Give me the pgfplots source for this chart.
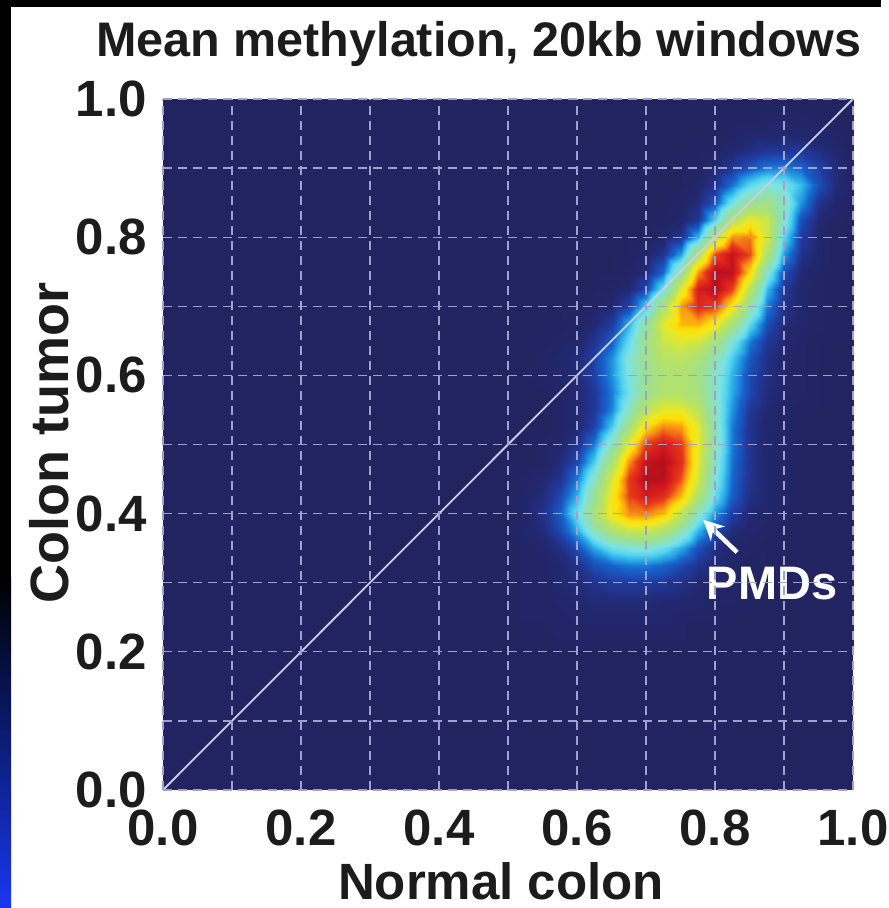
\documentclass[border=0pt]{standalone}
\usepackage{fontspec}
\setmainfont{Liberation Sans}
\usepackage{pgfplots}
\pgfplotsset{compat=1.18}
\usetikzlibrary{arrows.meta}
\definecolor{navy}{RGB}{34,36,98}
\definecolor{gridc}{RGB}{160,160,205}
\definecolor{diagc}{RGB}{205,205,230}
\definecolor{labc}{RGB}{28,28,28}
\definecolor{stripblue}{RGB}{25,55,240}
\pgfplotsset{colormap={meth}{
rgb255(0pt)=(34,36,98)
rgb255(3pt)=(34,40,112)
rgb255(8pt)=(32,58,158)
rgb255(14pt)=(22,100,205)
rgb255(20pt)=(40,170,230)
rgb255(25pt)=(85,212,240)
rgb255(30pt)=(125,226,228)
rgb255(36pt)=(140,225,185)
rgb255(44pt)=(160,224,140)
rgb255(55pt)=(190,228,90)
rgb255(64pt)=(238,232,35)
rgb255(70pt)=(255,222,5)
rgb255(78pt)=(248,145,20)
rgb255(85pt)=(232,60,25)
rgb255(92pt)=(212,25,30)
rgb255(100pt)=(165,12,28)}}
\newcommand\tlf{\fontsize{51}{60}\selectfont\bfseries}
\begin{document}
\begin{tikzpicture}
\fill[white] (0,0) rectangle (881pt,908pt);
\fill[black] (0,0) rectangle (11pt,908pt);
\shade[top color=black,bottom color=stripblue] (0,0) rectangle (11pt,330pt);
\fill[black] (0,901pt) rectangle (881pt,908pt);
\begin{axis}[at={(163pt,118pt)}, anchor=south west, scale only axis,
 width=690pt, height=691pt, xmin=0, xmax=1, ymin=0, ymax=1,
 axis background/.style={fill=navy}, axis line style={draw=none},
 xtick={0,0.2,0.4,0.6,0.8,1}, ytick={0,0.2,0.4,0.6,0.8,1},
 xticklabels={0.0,0.2,0.4,0.6,0.8,1.0}, yticklabels={0.0,0.2,0.4,0.6,0.8,1.0},
 minor xtick={0.1,0.3,0.5,0.7,0.9}, minor ytick={0.1,0.3,0.5,0.7,0.9},
 grid=both,
 major grid style={gridc, line width=1.3pt, dash pattern=on 9pt off 6pt},
 minor grid style={gridc, line width=1.3pt, dash pattern=on 9pt off 6pt},
 major tick length=0pt, minor tick length=0pt, axis on top,
 colormap name=meth, point meta min=0, point meta max=1,
 xticklabel style={font=\tlf, text=labc, anchor=base, inner sep=0pt, yshift=-56pt},
 yticklabel style={font=\tlf, text=labc, anchor=east, inner sep=0pt, xshift=-16pt}]
\addplot[surf, shader=interp, mesh/cols=21, point meta=explicit] coordinates {
(0.5,0.2)[0] (0.525,0.2)[0] (0.55,0.2)[0] (0.575,0.2)[0] (0.6,0.2)[0] (0.625,0.2)[0] (0.65,0.2)[0] (0.675,0.2)[0] (0.7,0.2)[0] (0.725,0.2)[0] (0.75,0.2)[0] (0.775,0.2)[0] (0.8,0.2)[0] (0.825,0.2)[0] (0.85,0.2)[0] (0.875,0.2)[0] (0.9,0.2)[0] (0.925,0.2)[0] (0.95,0.2)[0] (0.975,0.2)[0] (1,0.2)[0]
(0.5,0.225)[0] (0.525,0.225)[0] (0.55,0.225)[0] (0.575,0.225)[0.01] (0.6,0.225)[0.01] (0.625,0.225)[0.01] (0.65,0.225)[0.01] (0.675,0.225)[0.01] (0.7,0.225)[0.01] (0.725,0.225)[0.01] (0.75,0.225)[0.01] (0.775,0.225)[0] (0.8,0.225)[0] (0.825,0.225)[0] (0.85,0.225)[0] (0.875,0.225)[0] (0.9,0.225)[0] (0.925,0.225)[0] (0.95,0.225)[0] (0.975,0.225)[0] (1,0.225)[0]
(0.5,0.25)[0] (0.525,0.25)[0.01] (0.55,0.25)[0.01] (0.575,0.25)[0.01] (0.6,0.25)[0.02] (0.625,0.25)[0.02] (0.65,0.25)[0.02] (0.675,0.25)[0.02] (0.7,0.25)[0.02] (0.725,0.25)[0.02] (0.75,0.25)[0.01] (0.775,0.25)[0.01] (0.8,0.25)[0.01] (0.825,0.25)[0] (0.85,0.25)[0] (0.875,0.25)[0] (0.9,0.25)[0] (0.925,0.25)[0] (0.95,0.25)[0] (0.975,0.25)[0] (1,0.25)[0]
(0.5,0.275)[0] (0.525,0.275)[0.01] (0.55,0.275)[0.01] (0.575,0.275)[0.02] (0.6,0.275)[0.03] (0.625,0.275)[0.04] (0.65,0.275)[0.04] (0.675,0.275)[0.04] (0.7,0.275)[0.04] (0.725,0.275)[0.03] (0.75,0.275)[0.03] (0.775,0.275)[0.02] (0.8,0.275)[0.01] (0.825,0.275)[0.01] (0.85,0.275)[0] (0.875,0.275)[0] (0.9,0.275)[0] (0.925,0.275)[0] (0.95,0.275)[0] (0.975,0.275)[0] (1,0.275)[0]
(0.5,0.3)[0] (0.525,0.3)[0.01] (0.55,0.3)[0.01] (0.575,0.3)[0.03] (0.6,0.3)[0.04] (0.625,0.3)[0.06] (0.65,0.3)[0.08] (0.675,0.3)[0.08] (0.7,0.3)[0.08] (0.725,0.3)[0.07] (0.75,0.3)[0.05] (0.775,0.3)[0.03] (0.8,0.3)[0.02] (0.825,0.3)[0.01] (0.85,0.3)[0] (0.875,0.3)[0] (0.9,0.3)[0] (0.925,0.3)[0] (0.95,0.3)[0] (0.975,0.3)[0] (1,0.3)[0]
(0.5,0.325)[0] (0.525,0.325)[0.01] (0.55,0.325)[0.01] (0.575,0.325)[0.03] (0.6,0.325)[0.06] (0.625,0.325)[0.11] (0.65,0.325)[0.14] (0.675,0.325)[0.16] (0.7,0.325)[0.16] (0.725,0.325)[0.14] (0.75,0.325)[0.1] (0.775,0.325)[0.06] (0.8,0.325)[0.03] (0.825,0.325)[0.01] (0.85,0.325)[0] (0.875,0.325)[0] (0.9,0.325)[0] (0.925,0.325)[0] (0.95,0.325)[0] (0.975,0.325)[0] (1,0.325)[0]
(0.5,0.35)[0] (0.525,0.35)[0.01] (0.55,0.35)[0.02] (0.575,0.35)[0.05] (0.6,0.35)[0.11] (0.625,0.35)[0.2] (0.65,0.35)[0.28] (0.675,0.35)[0.31] (0.7,0.35)[0.32] (0.725,0.35)[0.28] (0.75,0.35)[0.2] (0.775,0.35)[0.11] (0.8,0.35)[0.05] (0.825,0.35)[0.02] (0.85,0.35)[0.01] (0.875,0.35)[0] (0.9,0.35)[0] (0.925,0.35)[0] (0.95,0.35)[0] (0.975,0.35)[0] (1,0.35)[0]
(0.5,0.375)[0] (0.525,0.375)[0.02] (0.55,0.375)[0.04] (0.575,0.375)[0.1] (0.6,0.375)[0.2] (0.625,0.375)[0.36] (0.65,0.375)[0.5] (0.675,0.375)[0.57] (0.7,0.375)[0.57] (0.725,0.375)[0.5] (0.75,0.375)[0.37] (0.775,0.375)[0.21] (0.8,0.375)[0.1] (0.825,0.375)[0.04] (0.85,0.375)[0.02] (0.875,0.375)[0.01] (0.9,0.375)[0] (0.925,0.375)[0] (0.95,0.375)[0] (0.975,0.375)[0] (1,0.375)[0]
(0.5,0.4)[0] (0.525,0.4)[0.02] (0.55,0.4)[0.06] (0.575,0.4)[0.13] (0.6,0.4)[0.28] (0.625,0.4)[0.48] (0.65,0.4)[0.67] (0.675,0.4)[0.78] (0.7,0.4)[0.79] (0.725,0.4)[0.73] (0.75,0.4)[0.55] (0.775,0.4)[0.34] (0.8,0.4)[0.18] (0.825,0.4)[0.08] (0.85,0.4)[0.03] (0.875,0.4)[0.02] (0.9,0.4)[0.01] (0.925,0.4)[0] (0.95,0.4)[0] (0.975,0.4)[0] (1,0.4)[0]
(0.5,0.425)[0] (0.525,0.425)[0.02] (0.55,0.425)[0.04] (0.575,0.425)[0.1] (0.6,0.425)[0.21] (0.625,0.425)[0.42] (0.65,0.425)[0.66] (0.675,0.425)[0.85] (0.7,0.425)[0.92] (0.725,0.425)[0.88] (0.75,0.425)[0.74] (0.775,0.425)[0.5] (0.8,0.425)[0.27] (0.825,0.425)[0.13] (0.85,0.425)[0.05] (0.875,0.425)[0.02] (0.9,0.425)[0.01] (0.925,0.425)[0] (0.95,0.425)[0] (0.975,0.425)[0] (1,0.425)[0]
(0.5,0.45)[0] (0.525,0.45)[0.01] (0.55,0.45)[0.03] (0.575,0.45)[0.06] (0.6,0.45)[0.16] (0.625,0.45)[0.34] (0.65,0.45)[0.61] (0.675,0.45)[0.86] (0.7,0.45)[0.98] (0.725,0.45)[0.97] (0.75,0.45)[0.83] (0.775,0.45)[0.58] (0.8,0.45)[0.31] (0.825,0.45)[0.14] (0.85,0.45)[0.06] (0.875,0.45)[0.02] (0.9,0.45)[0.01] (0.925,0.45)[0] (0.95,0.45)[0] (0.975,0.45)[0] (1,0.45)[0]
(0.5,0.475)[0] (0.525,0.475)[0] (0.55,0.475)[0.01] (0.575,0.475)[0.04] (0.6,0.475)[0.1] (0.625,0.475)[0.24] (0.65,0.475)[0.49] (0.675,0.475)[0.78] (0.7,0.475)[0.95] (0.725,0.475)[0.98] (0.75,0.475)[0.88] (0.775,0.475)[0.62] (0.8,0.475)[0.34] (0.825,0.475)[0.15] (0.85,0.475)[0.06] (0.875,0.475)[0.02] (0.9,0.475)[0.01] (0.925,0.475)[0] (0.95,0.475)[0] (0.975,0.475)[0] (1,0.475)[0]
(0.5,0.5)[0] (0.525,0.5)[0] (0.55,0.5)[0.01] (0.575,0.5)[0.02] (0.6,0.5)[0.06] (0.625,0.5)[0.16] (0.65,0.5)[0.36] (0.675,0.5)[0.63] (0.7,0.5)[0.86] (0.725,0.5)[0.92] (0.75,0.5)[0.86] (0.775,0.5)[0.63] (0.8,0.5)[0.36] (0.825,0.5)[0.16] (0.85,0.5)[0.06] (0.875,0.5)[0.02] (0.9,0.5)[0.01] (0.925,0.5)[0] (0.95,0.5)[0] (0.975,0.5)[0] (1,0.5)[0]
(0.5,0.525)[0] (0.525,0.525)[0] (0.55,0.525)[0] (0.575,0.525)[0.01] (0.6,0.525)[0.03] (0.625,0.525)[0.09] (0.65,0.525)[0.24] (0.675,0.525)[0.47] (0.7,0.525)[0.7] (0.725,0.525)[0.79] (0.75,0.525)[0.77] (0.775,0.525)[0.62] (0.8,0.525)[0.36] (0.825,0.525)[0.16] (0.85,0.525)[0.06] (0.875,0.525)[0.02] (0.9,0.525)[0.01] (0.925,0.525)[0] (0.95,0.525)[0] (0.975,0.525)[0] (1,0.525)[0]
(0.5,0.55)[0] (0.525,0.55)[0] (0.55,0.55)[0] (0.575,0.55)[0.01] (0.6,0.55)[0.03] (0.625,0.55)[0.07] (0.65,0.55)[0.17] (0.675,0.55)[0.35] (0.7,0.55)[0.53] (0.725,0.55)[0.63] (0.75,0.55)[0.63] (0.775,0.55)[0.54] (0.8,0.55)[0.35] (0.825,0.55)[0.18] (0.85,0.55)[0.07] (0.875,0.55)[0.03] (0.9,0.55)[0.01] (0.925,0.55)[0] (0.95,0.55)[0] (0.975,0.55)[0] (1,0.55)[0]
(0.5,0.575)[0] (0.525,0.575)[0] (0.55,0.575)[0] (0.575,0.575)[0.01] (0.6,0.575)[0.03] (0.625,0.575)[0.07] (0.65,0.575)[0.16] (0.675,0.575)[0.29] (0.7,0.575)[0.43] (0.725,0.575)[0.51] (0.75,0.575)[0.51] (0.775,0.575)[0.47] (0.8,0.575)[0.34] (0.825,0.575)[0.2] (0.85,0.575)[0.1] (0.875,0.575)[0.04] (0.9,0.575)[0.02] (0.925,0.575)[0.01] (0.95,0.575)[0] (0.975,0.575)[0] (1,0.575)[0]
(0.5,0.6)[0] (0.525,0.6)[0] (0.55,0.6)[0.01] (0.575,0.6)[0.02] (0.6,0.6)[0.04] (0.625,0.6)[0.09] (0.65,0.6)[0.18] (0.675,0.6)[0.31] (0.7,0.6)[0.43] (0.725,0.6)[0.49] (0.75,0.6)[0.5] (0.775,0.6)[0.45] (0.8,0.6)[0.34] (0.825,0.6)[0.21] (0.85,0.6)[0.1] (0.875,0.6)[0.05] (0.9,0.6)[0.02] (0.925,0.6)[0.01] (0.95,0.6)[0] (0.975,0.6)[0] (1,0.6)[0]
(0.5,0.625)[0] (0.525,0.625)[0] (0.55,0.625)[0.01] (0.575,0.625)[0.02] (0.6,0.625)[0.04] (0.625,0.625)[0.09] (0.65,0.625)[0.18] (0.675,0.625)[0.32] (0.7,0.625)[0.45] (0.725,0.625)[0.52] (0.75,0.625)[0.54] (0.775,0.625)[0.49] (0.8,0.625)[0.38] (0.825,0.625)[0.24] (0.85,0.625)[0.12] (0.875,0.625)[0.05] (0.9,0.625)[0.02] (0.925,0.625)[0.01] (0.95,0.625)[0] (0.975,0.625)[0] (1,0.625)[0]
(0.5,0.65)[0] (0.525,0.65)[0] (0.55,0.65)[0] (0.575,0.65)[0.01] (0.6,0.65)[0.02] (0.625,0.65)[0.06] (0.65,0.65)[0.13] (0.675,0.65)[0.27] (0.7,0.65)[0.45] (0.725,0.65)[0.58] (0.75,0.65)[0.62] (0.775,0.65)[0.59] (0.8,0.65)[0.48] (0.825,0.65)[0.31] (0.85,0.65)[0.16] (0.875,0.65)[0.07] (0.9,0.65)[0.03] (0.925,0.65)[0.01] (0.95,0.65)[0] (0.975,0.65)[0] (1,0.65)[0]
(0.5,0.675)[0] (0.525,0.675)[0] (0.55,0.675)[0] (0.575,0.675)[0] (0.6,0.675)[0.01] (0.625,0.675)[0.03] (0.65,0.675)[0.08] (0.675,0.675)[0.21] (0.7,0.675)[0.4] (0.725,0.675)[0.62] (0.75,0.675)[0.74] (0.775,0.675)[0.75] (0.8,0.675)[0.66] (0.825,0.675)[0.47] (0.85,0.675)[0.26] (0.875,0.675)[0.11] (0.9,0.675)[0.04] (0.925,0.675)[0.02] (0.95,0.675)[0.01] (0.975,0.675)[0] (1,0.675)[0]
(0.5,0.7)[0] (0.525,0.7)[0] (0.55,0.7)[0] (0.575,0.7)[0] (0.6,0.7)[0] (0.625,0.7)[0.01] (0.65,0.7)[0.03] (0.675,0.7)[0.09] (0.7,0.7)[0.24] (0.725,0.7)[0.5] (0.75,0.7)[0.77] (0.775,0.7)[0.89] (0.8,0.7)[0.86] (0.825,0.7)[0.67] (0.85,0.7)[0.39] (0.875,0.7)[0.16] (0.9,0.7)[0.06] (0.925,0.7)[0.02] (0.95,0.7)[0.01] (0.975,0.7)[0] (1,0.7)[0]
(0.5,0.725)[0] (0.525,0.725)[0] (0.55,0.725)[0] (0.575,0.725)[0] (0.6,0.725)[0] (0.625,0.725)[0] (0.65,0.725)[0.01] (0.675,0.725)[0.03] (0.7,0.725)[0.1] (0.725,0.725)[0.28] (0.75,0.725)[0.62] (0.775,0.725)[0.91] (0.8,0.725)[0.98] (0.825,0.725)[0.85] (0.85,0.725)[0.53] (0.875,0.725)[0.22] (0.9,0.725)[0.07] (0.925,0.725)[0.02] (0.95,0.725)[0.01] (0.975,0.725)[0] (1,0.725)[0]
(0.5,0.75)[0] (0.525,0.75)[0] (0.55,0.75)[0] (0.575,0.75)[0] (0.6,0.75)[0] (0.625,0.75)[0] (0.65,0.75)[0] (0.675,0.75)[0.01] (0.7,0.75)[0.04] (0.725,0.75)[0.14] (0.75,0.75)[0.4] (0.775,0.75)[0.77] (0.8,0.75)[0.98] (0.825,0.75)[0.96] (0.85,0.75)[0.7] (0.875,0.75)[0.33] (0.9,0.75)[0.11] (0.925,0.75)[0.03] (0.95,0.75)[0.01] (0.975,0.75)[0] (1,0.75)[0]
(0.5,0.775)[0] (0.525,0.775)[0] (0.55,0.775)[0] (0.575,0.775)[0] (0.6,0.775)[0] (0.625,0.775)[0] (0.65,0.775)[0] (0.675,0.775)[0] (0.7,0.775)[0.02] (0.725,0.775)[0.06] (0.75,0.775)[0.19] (0.775,0.775)[0.5] (0.8,0.775)[0.84] (0.825,0.775)[0.95] (0.85,0.775)[0.84] (0.875,0.775)[0.5] (0.9,0.775)[0.19] (0.925,0.775)[0.06] (0.95,0.775)[0.02] (0.975,0.775)[0] (1,0.775)[0]
(0.5,0.8)[0] (0.525,0.8)[0] (0.55,0.8)[0] (0.575,0.8)[0] (0.6,0.8)[0] (0.625,0.8)[0] (0.65,0.8)[0] (0.675,0.8)[0] (0.7,0.8)[0] (0.725,0.8)[0.02] (0.75,0.8)[0.06] (0.775,0.8)[0.21] (0.8,0.8)[0.52] (0.825,0.8)[0.78] (0.85,0.8)[0.8] (0.875,0.8)[0.59] (0.9,0.8)[0.26] (0.925,0.8)[0.08] (0.95,0.8)[0.02] (0.975,0.8)[0] (1,0.8)[0]
(0.5,0.825)[0] (0.525,0.825)[0] (0.55,0.825)[0] (0.575,0.825)[0] (0.6,0.825)[0] (0.625,0.825)[0] (0.65,0.825)[0] (0.675,0.825)[0] (0.7,0.825)[0] (0.725,0.825)[0] (0.75,0.825)[0.02] (0.775,0.825)[0.07] (0.8,0.825)[0.25] (0.825,0.825)[0.51] (0.85,0.825)[0.64] (0.875,0.825)[0.58] (0.9,0.825)[0.33] (0.925,0.825)[0.11] (0.95,0.825)[0.03] (0.975,0.825)[0.01] (1,0.825)[0]
(0.5,0.85)[0] (0.525,0.85)[0] (0.55,0.85)[0] (0.575,0.85)[0] (0.6,0.85)[0] (0.625,0.85)[0] (0.65,0.85)[0] (0.675,0.85)[0] (0.7,0.85)[0] (0.725,0.85)[0] (0.75,0.85)[0.01] (0.775,0.85)[0.04] (0.8,0.85)[0.12] (0.825,0.85)[0.29] (0.85,0.85)[0.43] (0.875,0.85)[0.45] (0.9,0.85)[0.36] (0.925,0.85)[0.18] (0.95,0.85)[0.06] (0.975,0.85)[0.02] (1,0.85)[0]
(0.5,0.875)[0] (0.525,0.875)[0] (0.55,0.875)[0] (0.575,0.875)[0] (0.6,0.875)[0] (0.625,0.875)[0] (0.65,0.875)[0] (0.675,0.875)[0] (0.7,0.875)[0] (0.725,0.875)[0] (0.75,0.875)[0] (0.775,0.875)[0.02] (0.8,0.875)[0.06] (0.825,0.875)[0.15] (0.85,0.875)[0.26] (0.875,0.875)[0.32] (0.9,0.875)[0.3] (0.925,0.875)[0.22] (0.95,0.875)[0.11] (0.975,0.875)[0.04] (1,0.875)[0]
(0.5,0.9)[0] (0.525,0.9)[0] (0.55,0.9)[0] (0.575,0.9)[0] (0.6,0.9)[0] (0.625,0.9)[0] (0.65,0.9)[0] (0.675,0.9)[0] (0.7,0.9)[0] (0.725,0.9)[0] (0.75,0.9)[0] (0.775,0.9)[0.01] (0.8,0.9)[0.03] (0.825,0.9)[0.07] (0.85,0.9)[0.12] (0.875,0.9)[0.16] (0.9,0.9)[0.17] (0.925,0.9)[0.14] (0.95,0.9)[0.09] (0.975,0.9)[0.04] (1,0.9)[0]
(0.5,0.925)[0] (0.525,0.925)[0] (0.55,0.925)[0] (0.575,0.925)[0] (0.6,0.925)[0] (0.625,0.925)[0] (0.65,0.925)[0] (0.675,0.925)[0] (0.7,0.925)[0] (0.725,0.925)[0] (0.75,0.925)[0] (0.775,0.925)[0] (0.8,0.925)[0.01] (0.825,0.925)[0.03] (0.85,0.925)[0.05] (0.875,0.925)[0.07] (0.9,0.925)[0.07] (0.925,0.925)[0.07] (0.95,0.925)[0.05] (0.975,0.925)[0.03] (1,0.925)[0]
(0.5,0.95)[0] (0.525,0.95)[0] (0.55,0.95)[0] (0.575,0.95)[0] (0.6,0.95)[0] (0.625,0.95)[0] (0.65,0.95)[0] (0.675,0.95)[0] (0.7,0.95)[0] (0.725,0.95)[0] (0.75,0.95)[0] (0.775,0.95)[0] (0.8,0.95)[0] (0.825,0.95)[0.01] (0.85,0.95)[0.02] (0.875,0.95)[0.02] (0.9,0.95)[0.03] (0.925,0.95)[0.02] (0.95,0.95)[0.02] (0.975,0.95)[0.01] (1,0.95)[0]
(0.5,0.975)[0] (0.525,0.975)[0] (0.55,0.975)[0] (0.575,0.975)[0] (0.6,0.975)[0] (0.625,0.975)[0] (0.65,0.975)[0] (0.675,0.975)[0] (0.7,0.975)[0] (0.725,0.975)[0] (0.75,0.975)[0] (0.775,0.975)[0] (0.8,0.975)[0] (0.825,0.975)[0] (0.85,0.975)[0] (0.875,0.975)[0.01] (0.9,0.975)[0.01] (0.925,0.975)[0.01] (0.95,0.975)[0] (0.975,0.975)[0] (1,0.975)[0]
(0.5,1)[0] (0.525,1)[0] (0.55,1)[0] (0.575,1)[0] (0.6,1)[0] (0.625,1)[0] (0.65,1)[0] (0.675,1)[0] (0.7,1)[0] (0.725,1)[0] (0.75,1)[0] (0.775,1)[0] (0.8,1)[0] (0.825,1)[0] (0.85,1)[0] (0.875,1)[0] (0.9,1)[0] (0.925,1)[0] (0.95,1)[0] (0.975,1)[0] (1,1)[0]
};
\addplot[diagc, line width=1.8pt] coordinates {(0,0) (1,1)};
\draw[white, line width=4.5pt, -{Stealth[length=20pt,width=20pt,inset=6pt]}] (axis cs:0.832,0.344) -- (axis cs:0.783,0.391);
\node[white, anchor=base, inner sep=0pt, font=\fontsize{47}{56}\selectfont\bfseries] at (axis cs:0.883,0.275) {PMDs};
\end{axis}
\node[anchor=base, inner sep=0pt, text=labc, font=\fontsize{48.5}{58}\selectfont\bfseries] at (479pt,851pt) {Mean methylation, 20kb windows};
\node[anchor=base, inner sep=0pt, text=labc, font=\fontsize{51}{60}\selectfont\bfseries] at (501pt,9pt) {Normal colon};
\node[anchor=base, rotate=90, inner sep=0pt, text=labc, font=\fontsize{54}{64}\selectfont\bfseries] at (68pt,465pt) {Colon tumor};
\end{tikzpicture}
\end{document}
